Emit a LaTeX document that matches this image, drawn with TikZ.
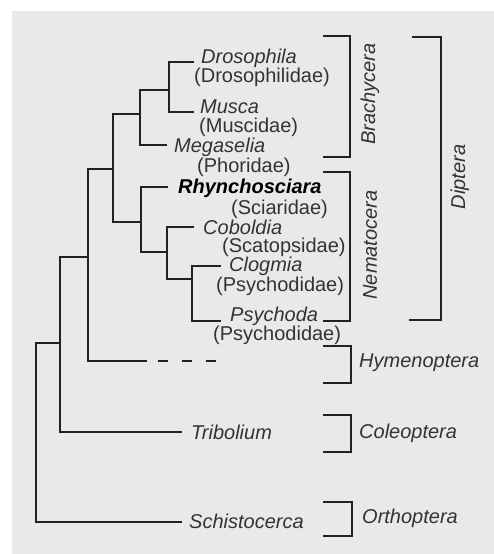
\documentclass[tikz,border=0pt]{standalone}
\usepackage{fontspec}
\setmainfont{Liberation Sans}
\definecolor{bgc}{HTML}{E8E9EB}
\definecolor{txt}{HTML}{333333}
\definecolor{ln}{HTML}{222222}
\begin{document}
\begin{tikzpicture}[x=1pt,y=-1pt,
  br/.style={draw=ln,line width=2.5pt,line join=miter,line cap=butt},
  lab/.style={inner sep=0pt,text=txt,font=\fontsize{20}{20}\selectfont\itshape},
  fam/.style={inner sep=0pt,text=txt,font=\fontsize{20}{20}\selectfont}]
\useasboundingbox (0,0) rectangle (494,554);
\fill[bgc] (12,11) rectangle (494,554);
% leaf labels
\node[lab,anchor=west] (dros) at (201,58) {Drosophila};
\node[fam,anchor=west] (drosf) at (194,77) {(Drosophilidae)};
\node[lab,anchor=west] (musca) at (200,107) {Musca};
\node[fam,anchor=west] (muscaf) at (199,127.5) {(Muscidae)};
\node[lab,anchor=west] (mega) at (174,147) {Megaselia};
\node[fam,anchor=west] (megaf) at (197,167) {(Phoridae)};
\node[lab,anchor=west,font=\fontsize{20}{20}\selectfont\bfseries\itshape,text=black] (rhyn) at (178,188) {Rhynchosciara};
\node[fam,anchor=east] (rhynf) at (328,209) {(Sciaridae)};
\node[lab,anchor=west] (cobo) at (203,227) {Coboldia};
\node[fam,anchor=west] (cobof) at (222,247) {(Scatopsidae)};
\node[lab,anchor=west] (clog) at (229,266) {Clogmia};
\node[fam,anchor=west] (clogf) at (216,286) {(Psychodidae)};
\node[lab,anchor=west] (psych) at (230,316) {Psychoda};
\node[fam,anchor=west] (psychf) at (213,335) {(Psychodidae)};
\node[lab,anchor=west] (trib) at (191,432) {Tribolium};
\node[lab,anchor=west] (schi) at (189,521) {Schistocerca};
% group labels
\node[lab,rotate=90] (brach) at (370,94) {Brachycera};
\node[lab,rotate=90] (nemat) at (370,245) {Nematocera};
\node[lab,rotate=90] (dipt) at (460,177) {Diptera};
\node[lab,anchor=west] (hym) at (359,363) {Hymenoptera};
\node[lab,anchor=west] (cole) at (359,433) {Coleoptera};
\node[lab,anchor=west] (orth) at (362,518) {Orthoptera};
% tree
\draw[br] (194,62) -- (169,62) -- (169,112) -- (194,112);
\draw[br] (169,90) -- (140,90) -- (140,145) -- (167,145);
\draw[br] (221,266) -- (192,266) -- (192,321) -- (221,321);
\draw[br] (194,227) -- (167,227) -- (167,279) -- (192,279);
\draw[br] (168,187) -- (141,187) -- (141,252) -- (167,252);
\draw[br] (140,114) -- (113,114) -- (113,222) -- (141,222);
\draw[br] (113,169) -- (88,169) -- (88,361) -- (147,361);
\draw[br,dash pattern=on 10pt off 14pt] (158,361) -- (220,361);
\draw[br] (88,257) -- (60,257) -- (60,432) -- (182,432);
\draw[br] (60,343) -- (36,343) -- (36,522) -- (182,522);
% brackets
\draw[br] (323,36) -- (350,36) -- (350,157) -- (323,157);
\draw[br] (323,172) -- (350,172) -- (350,321) -- (323,321);
\draw[br] (412,37) -- (441,37) -- (441,320) -- (409,320);
\draw[br] (323,346) -- (351,346) -- (351,383) -- (323,383);
\draw[br] (323,415) -- (351,415) -- (351,452) -- (323,452);
\draw[br] (323,502) -- (352,502) -- (352,536) -- (323,536);
\end{tikzpicture}
\end{document}
